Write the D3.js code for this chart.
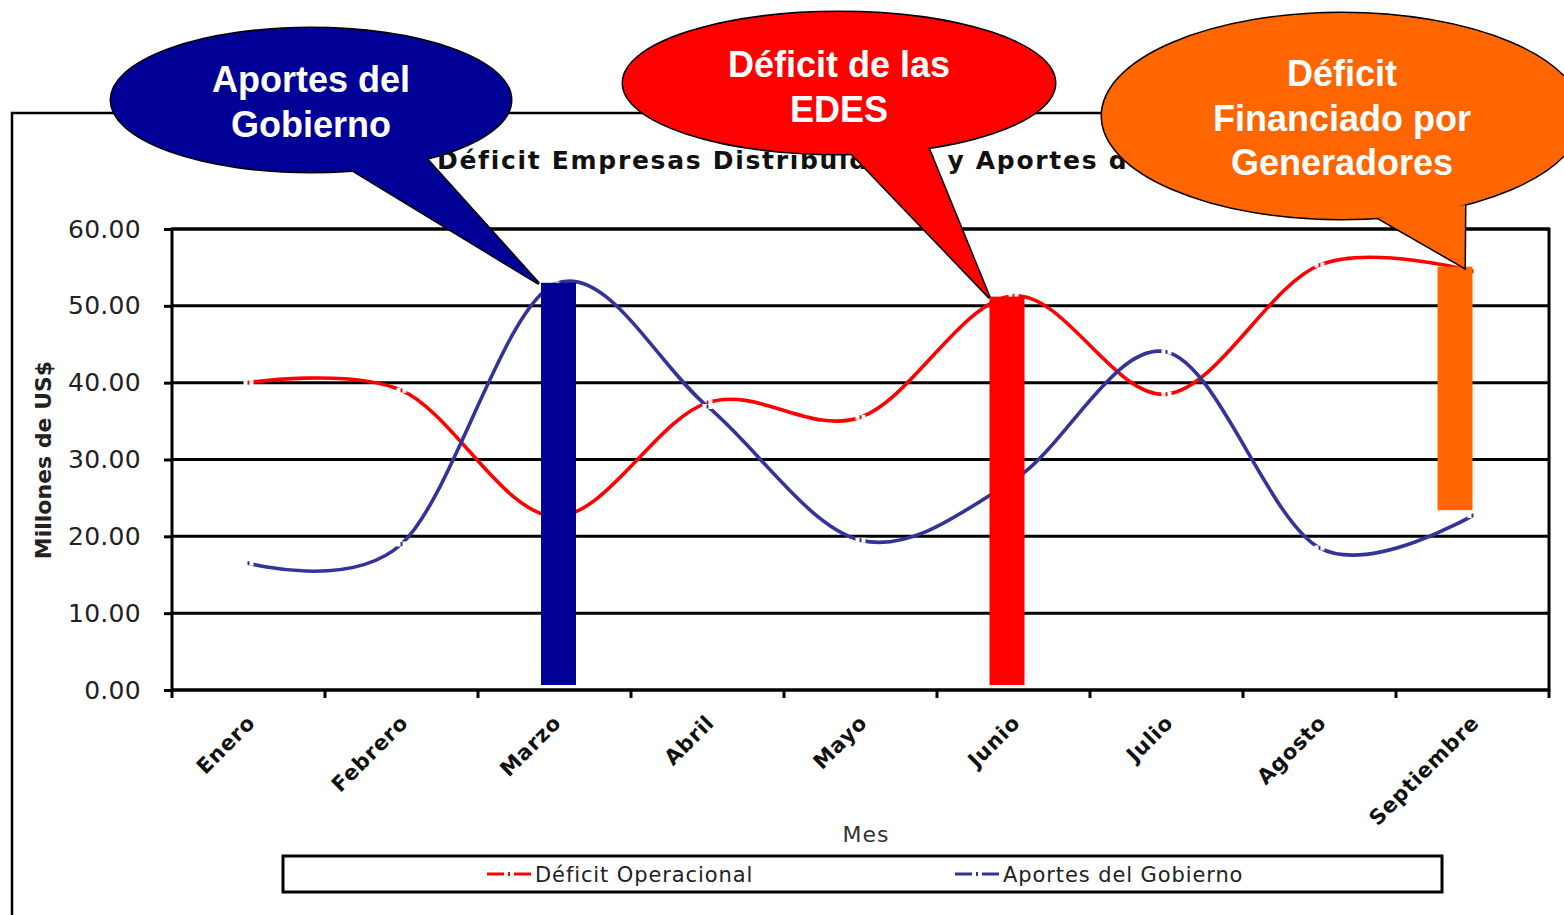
<!DOCTYPE html>
<html>
<head>
<meta charset="utf-8">
<script src="https://cdn.jsdelivr.net/npm/d3@7"></script>
<style>
  body { margin: 0; background: #fff; }
  svg { display: block; }
</style>
</head>
<body>
<svg width="1564" height="915"></svg>
<script>
const svg = d3.select('svg');
const width = +svg.attr('width');
const height = +svg.attr('height');

// data
const meses = ['Enero', 'Febrero', 'Marzo', 'Abril', 'Mayo', 'Junio', 'Julio', 'Agosto', 'Septiembre'];
const deficitOperacional = [40.0, 39.0, 22.6, 37.4, 35.5, 51.3, 38.5, 55.3, 54.5];
const aportesGobierno = [16.5, 19.0, 52.8, 36.9, 19.5, 27.3, 44.0, 18.5, 22.7];
const yTicks = [0, 10, 20, 30, 40, 50, 60];
const seriesNames = ['Déficit Operacional', 'Aportes del Gobierno'];

// highlight bars drawn over the chart
const barMes = ['Marzo', 'Junio', 'Septiembre'];
const barDesde = [0.65, 0.65, 23.4];
const barHasta = [53.0, 51.2, 55.1];
const calloutTexts = [
    ['Aportes del', 'Gobierno'],
    ['Déficit de las', 'EDES'],
    ['Déficit', 'Financiado por', 'Generadores']
];

const titleText = 'Déficit Empresas Distribuidoras y Aportes del Gobierno';
const yLabel = 'Millones de US$';
const xLabel = 'Mes';

// styles
const colRed = '#ff0000';
const colBlue = '#333399';
const barColors = ['#000096', '#ff0000', '#ff6600'];
const fontSmall = '"DejaVu Sans", Verdana, sans-serif';
const fontCallout = '"Liberation Sans", Arial, sans-serif';

const margin = { top: 229, right: width - 1549, bottom: height - 690, left: 172 };
const innerWidth = width - margin.left - margin.right;
const innerHeight = height - margin.top - margin.bottom;

/******************
*** SCALES ********
*******************/
const xScale = d3.scaleBand()
    .domain(meses)
    .range([margin.left, margin.left + innerWidth])
    .padding(0);
const xc = m => xScale(m) + xScale.bandwidth() / 2;

const yScale = d3.scaleLinear()
    .domain([0, 60])
    .range([margin.top + innerHeight, margin.top]);

/******************
*** FRAME *********
*******************/
// outer chart border (runs off the picture to the right and bottom)
svg.append('path')
    .attr('d', `M12,${height + 5}V113H${width + 5}`)
    .attr('fill', 'none')
    .attr('stroke', '#000')
    .attr('stroke-width', 2.5);

svg.append('text')
    .attr('x', 437)
    .attr('y', 169)
    .attr('font-family', '"DejaVu Sans", Verdana, sans-serif')
    .attr('font-weight', 'bold')
    .attr('font-size', 25)
    .attr('letter-spacing', 1.7)
    .attr('fill', '#111')
    .text(titleText);

/******************
*** GRID & AXES ***
*******************/
svg.append('g')
    .selectAll('line')
    .data(yTicks)
    .join('line')
    .attr('x1', margin.left)
    .attr('x2', margin.left + innerWidth)
    .attr('y1', d => yScale(d))
    .attr('y2', d => yScale(d))
    .attr('stroke', '#000')
    .attr('stroke-width', 3);

svg.append('rect')
    .attr('x', margin.left)
    .attr('y', margin.top)
    .attr('width', innerWidth)
    .attr('height', innerHeight)
    .attr('fill', 'none')
    .attr('stroke', '#000')
    .attr('stroke-width', 3);

// y axis
const yAxisG = svg.append('g')
    .attr('transform', `translate(${margin.left},0)`)
    .call(d3.axisLeft(yScale)
        .tickValues(yTicks)
        .tickSize(8)
        .tickPadding(23)
        .tickFormat(d3.format('.2f')));
yAxisG.select('.domain').remove();
yAxisG.selectAll('line').attr('stroke', '#000').attr('stroke-width', 3);
yAxisG.selectAll('text')
    .attr('font-family', fontSmall)
    .attr('font-size', 25)
    .attr('letter-spacing', 0.3)
    .attr('fill', '#222');

svg.append('text')
    .attr('transform', `translate(51,460) rotate(-90)`)
    .attr('text-anchor', 'middle')
    .attr('font-family', fontSmall)
    .attr('font-weight', 'bold')
    .attr('font-size', 22)
    .attr('letter-spacing', 0)
    .attr('fill', '#222')
    .text(yLabel);

// x axis ticks on the band edges
const edges = meses.map(m => xScale(m)).concat([margin.left + innerWidth]);
svg.append('g')
    .selectAll('line')
    .data(edges)
    .join('line')
    .attr('x1', d => d)
    .attr('x2', d => d)
    .attr('y1', margin.top + innerHeight)
    .attr('y2', margin.top + innerHeight + 8)
    .attr('stroke', '#000')
    .attr('stroke-width', 3);

svg.append('g')
    .selectAll('text')
    .data(meses)
    .join('text')
    .attr('transform', d => `translate(${xc(d) + 8},${margin.top + innerHeight + 34}) rotate(-45)`)
    .attr('text-anchor', 'end')
    .attr('font-family', fontSmall)
    .attr('font-weight', 'bold')
    .attr('font-size', 21)
    .attr('letter-spacing', 0.8)
    .attr('fill', '#111')
    .text(d => d);

svg.append('text')
    .attr('x', 866)
    .attr('y', 842)
    .attr('text-anchor', 'middle')
    .attr('font-family', fontSmall)
    .attr('font-size', 22)
    .attr('letter-spacing', 1)
    .attr('fill', '#333')
    .text(xLabel);

/******************
*** LINES *********
*******************/
const lineGen = d3.line()
    .x((d, i) => xc(meses[i]))
    .y(d => yScale(d))
    .curve(d3.curveCatmullRom.alpha(0));

const series = [
    { values: deficitOperacional, color: colRed },
    { values: aportesGobierno, color: colBlue }
];

series.forEach(s => {
    svg.append('path')
        .attr('d', lineGen(s.values))
        .attr('fill', 'none')
        .attr('stroke', s.color)
        .attr('stroke-width', 3.6);

    // dash markers: white gap with a thin tick
    const mk = svg.append('g')
        .selectAll('g')
        .data(s.values)
        .join('g')
        .attr('transform', (d, i) => `translate(${xc(meses[i])},${yScale(d)})`);
    mk.append('rect')
        .attr('x', -5).attr('y', -2.5)
        .attr('width', 10).attr('height', 5)
        .attr('fill', '#fff');
    mk.append('rect')
        .attr('x', -1).attr('y', -2)
        .attr('width', 2).attr('height', 4)
        .attr('fill', s.color);
});

/******************
*** BARS **********
*******************/
const barWidth = 35;
const barShift = [4, -6.5, -17.5];
const bars = barMes.map((m, i) => ({
    x: xc(m) + barShift[i] - barWidth / 2,
    y0: yScale(barDesde[i]),
    y1: yScale(barHasta[i]),
    color: barColors[i]
}));

svg.append('g')
    .selectAll('rect')
    .data(bars)
    .join('rect')
    .attr('x', d => d.x)
    .attr('y', d => d.y1)
    .attr('width', barWidth)
    .attr('height', d => d.y0 - d.y1)
    .attr('fill', d => d.color);

/******************
*** LEGEND ********
*******************/
svg.append('rect')
    .attr('x', 283)
    .attr('y', 856)
    .attr('width', 1159)
    .attr('height', 36)
    .attr('fill', '#fff')
    .attr('stroke', '#000')
    .attr('stroke-width', 3);

const legendX = [487, 955];
const legendItem = svg.append('g')
    .selectAll('g')
    .data(series)
    .join('g')
    .attr('transform', (d, i) => `translate(${legendX[i]},874)`);
legendItem.append('line')
    .attr('x1', 0).attr('x2', 44)
    .attr('stroke', d => d.color)
    .attr('stroke-width', 3);
legendItem.append('rect')
    .attr('x', 17).attr('y', -2.5)
    .attr('width', 10).attr('height', 5)
    .attr('fill', '#fff');
legendItem.append('rect')
    .attr('x', 21).attr('y', -2)
    .attr('width', 2).attr('height', 4)
    .attr('fill', d => d.color);
legendItem.append('text')
    .attr('x', 48)
    .attr('y', 8)
    .attr('font-family', fontSmall)
    .attr('font-size', 21)
    .attr('letter-spacing', 0.9)
    .attr('fill', '#222')
    .text((d, i) => seriesNames[i]);

/******************
*** CALLOUTS ******
*******************/
// ellipse + wedge; the wedge tip sits on its bar
const calloutLayout = [
    { cx: 311, cy: 100, rx: 200, ry: 72, base: [[352, 170], [425, 157]], tipDx: -2, textY: 92 },
    { cx: 839, cy: 83, rx: 216, ry: 71, base: [[850, 152], [928, 147]], tipDx: 0, textY: 77 },
    { cx: 1342, cy: 116, rx: 240, ry: 103, base: [[1378, 218], [1465, 205]], tipDx: 27, textY: 86 }
];

calloutLayout.forEach((c, i) => {
    const b = bars[i];
    const tip = [b.x + c.tipDx, b.y1 + 1];
    const wedge = [c.base[0], tip, c.base[1]];
    const g = svg.append('g');
    const fill = barColors[i];

    g.append('ellipse')
        .attr('cx', c.cx).attr('cy', c.cy).attr('rx', c.rx).attr('ry', c.ry)
        .attr('fill', fill).attr('stroke', '#000').attr('stroke-width', 3);
    g.append('polygon')
        .attr('points', wedge.join(' '))
        .attr('fill', fill).attr('stroke', '#000').attr('stroke-width', 3);
    g.append('ellipse')
        .attr('cx', c.cx).attr('cy', c.cy).attr('rx', c.rx).attr('ry', c.ry)
        .attr('fill', fill);
    g.append('polygon')
        .attr('points', wedge.join(' '))
        .attr('fill', fill);

    g.append('g')
        .selectAll('text')
        .data(calloutTexts[i])
        .join('text')
        .attr('x', c.cx)
        .attr('y', (d, j) => c.textY + j * 44.5)
        .attr('text-anchor', 'middle')
        .attr('font-family', fontCallout)
        .attr('font-weight', 'bold')
        .attr('font-size', 36)
        .attr('fill', '#fff')
        .text(d => d);
});
</script>
</body>
</html>
